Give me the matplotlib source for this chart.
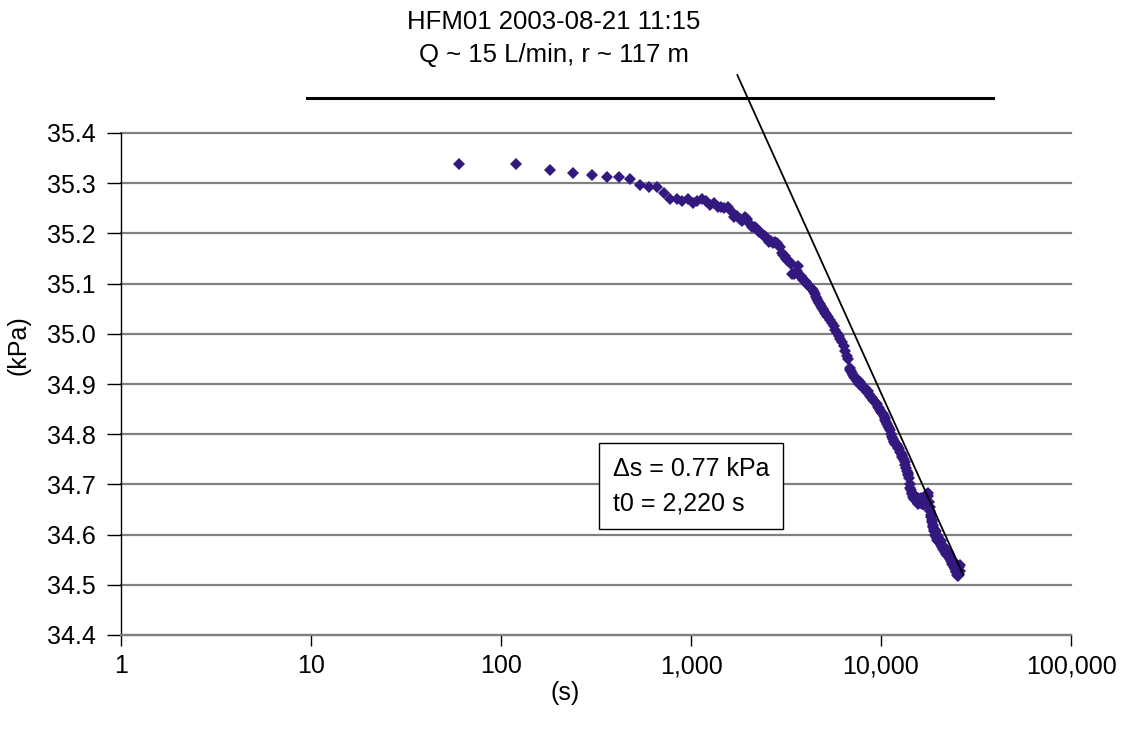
import numpy as np
import matplotlib.pyplot as plt
from matplotlib.ticker import FixedLocator, FuncFormatter, NullLocator

# HFM01 pressure recovery
t = [60, 120, 180, 240, 300, 360, 420, 480, 540, 600, 660, 720, 780, 840, 900, 960,
     1020, 1080, 1140, 1200, 1260, 1320, 1380, 1440, 1500, 1560, 1620, 1680, 1740, 1800,
     1860, 1920, 1980, 2040, 2100, 2160, 2220, 2280, 2340, 2400, 2460, 2520, 2580, 2640,
     2700, 2760, 2820, 2880, 2940, 3000, 3060, 3120, 3180, 3240, 3300, 3360, 3420, 3480,
     3540, 3600, 3660, 3720, 3780, 3840, 3900, 3960, 4020, 4080, 4140, 4200, 4260, 4320,
     4380, 4440, 4500, 4560, 4620, 4680, 4740, 4800, 4860, 4920, 4980, 5040, 5100, 5160,
     5220, 5280, 5400, 5520, 5640, 5760, 5880, 6000, 6120, 6240, 6360, 6480, 6600, 6720,
     6840, 6900, 6960, 7020, 7080, 7200, 7320, 7440, 7560, 7680, 7800, 7920, 8040, 8160,
     8280, 8400, 8520, 8640, 8760, 8880, 9000, 9120, 9240, 9360, 9480, 9600, 9720, 9840,
     9960, 10080, 10200, 10320, 10440, 10560, 10680, 10800, 10920, 11040, 11160, 11280,
     11400, 11520, 11640, 11760, 11880, 12000, 12120, 12240, 12360, 12480, 12600, 12720,
     12840, 12960, 13080, 13200, 13320, 13440, 13560, 13680, 13800, 13920, 14040, 14160,
     14280, 14400, 14520, 14640, 14760, 14880, 15000, 15120, 15240, 15360, 15480, 15600,
     15720, 15840, 15960, 16080, 16200, 16320, 16440, 16560, 16680, 16800, 16920, 17040,
     17160, 17280, 17400, 17520, 17640, 17760, 17880, 18000, 18120, 18240, 18360, 18480,
     18600, 18720, 18840, 18960, 19080, 19200, 19320, 19440, 19560, 19680, 19800, 19920,
     20040, 20160, 20280, 20400, 20520, 20640, 20760, 20880, 21000, 21120, 21240, 21360,
     21480, 21600, 21720, 21840, 21960, 22080, 22200, 22320, 22440, 22560, 22680, 22800,
     22920, 23040, 23160, 23280, 23400, 23520, 23640, 23760, 23880, 24000, 24120, 24240,
     24360, 24480, 24600, 24720, 24840, 24960, 25080, 25200, 25320, 25440, 25560, 25680,
     25800, 25920, 26040]
p = [35.338, 35.338, 35.326, 35.321, 35.317, 35.313, 35.313, 35.308, 35.296, 35.293,
     35.293, 35.280, 35.268, 35.268, 35.265, 35.268, 35.260, 35.265, 35.268, 35.265,
     35.257, 35.261, 35.252, 35.253, 35.250, 35.252, 35.245, 35.232, 35.235, 35.228,
     35.225, 35.232, 35.228, 35.218, 35.213, 35.212, 35.208, 35.203, 35.200, 35.197,
     35.195, 35.188, 35.183, 35.185, 35.180, 35.182, 35.181, 35.176, 35.172, 35.160,
     35.157, 35.155, 35.150, 35.146, 35.144, 35.140, 35.120, 35.120, 35.122, 35.125,
     35.135, 35.118, 35.115, 35.112, 35.108, 35.105, 35.103, 35.100, 35.098, 35.095,
     35.092, 35.090, 35.087, 35.084, 35.080, 35.074, 35.070, 35.066, 35.062, 35.060,
     35.056, 35.052, 35.049, 35.046, 35.042, 35.039, 35.036, 35.033, 35.028, 35.022,
     35.016, 35.008, 35.002, 34.996, 34.990, 34.984, 34.976, 34.966, 34.956, 34.950,
     34.932, 34.928, 34.925, 34.921, 34.918, 34.914, 34.912, 34.905, 34.908, 34.900,
     34.903, 34.897, 34.895, 34.890, 34.892, 34.885, 34.887, 34.880, 34.876, 34.875,
     34.872, 34.868, 34.866, 34.862, 34.860, 34.855, 34.852, 34.848, 34.845, 34.843,
     34.840, 34.836, 34.832, 34.828, 34.824, 34.820, 34.816, 34.812, 34.808, 34.800,
     34.795, 34.790, 34.787, 34.784, 34.781, 34.780, 34.778, 34.775, 34.772, 34.770,
     34.765, 34.762, 34.758, 34.755, 34.752, 34.748, 34.744, 34.738, 34.732, 34.727,
     34.722, 34.718, 34.712, 34.700, 34.692, 34.688, 34.680, 34.683, 34.675, 34.670,
     34.678, 34.672, 34.668, 34.675, 34.665, 34.672, 34.660, 34.668, 34.662, 34.670,
     34.665, 34.672, 34.660, 34.668, 34.662, 34.658, 34.665, 34.662, 34.670, 34.675,
     34.678, 34.680, 34.682, 34.676, 34.665, 34.655, 34.648, 34.640, 34.636, 34.630,
     34.625, 34.620, 34.615, 34.612, 34.608, 34.605, 34.600, 34.608, 34.595, 34.600,
     34.590, 34.595, 34.588, 34.592, 34.585, 34.590, 34.583, 34.588, 34.580, 34.575,
     34.580, 34.578, 34.572, 34.575, 34.570, 34.568, 34.572, 34.565, 34.568, 34.562,
     34.566, 34.560, 34.565, 34.558, 34.562, 34.555, 34.560, 34.552, 34.556, 34.548,
     34.552, 34.545, 34.550, 34.542, 34.548, 34.540, 34.545, 34.535, 34.540, 34.532,
     34.536, 34.528, 34.532, 34.525, 34.530, 34.520, 34.525, 34.518, 34.530, 34.522,
     34.535, 34.528, 34.540]

# semilog straight-line fit and the horizontal reference line
fit_t = [1753, 27100]
fit_p = [35.5155, 34.5195]
ref_t = [9.5, 38700]
ref_p = [35.47, 35.47]

xticks = [1, 10, 100, 1000, 10000, 100000]
yticks = np.round(np.arange(34.4, 35.41, 0.1), 1)

plt.rcParams['font.family'] = ['Liberation Sans', 'DejaVu Sans']

fig = plt.figure(figsize=(11.31, 7.35), dpi=100)
ax = fig.add_axes([121/1131, 1 - 635/735, 950/1131, 502/735])

ax.set_xscale('log')
ax.set_xlim(1, 100000)
ax.set_ylim(34.4, 35.4)

for y in yticks:
    ax.axhline(y, color='#808080', lw=1.6, zorder=1, clip_on=False)

ax.plot(t, p, 'D', color='#33197f', markersize=6.2, markeredgewidth=0, zorder=3)
ax.plot(fit_t, fit_p, color='black', lw=1.3, zorder=4, clip_on=False)
ax.plot(ref_t, ref_p, color='black', lw=2.2, zorder=4, clip_on=False)

ax.xaxis.set_major_locator(FixedLocator(xticks))
ax.xaxis.set_minor_locator(NullLocator())
ax.xaxis.set_major_formatter(FuncFormatter(lambda v, pos: f'{v:,.0f}'))
ax.set_yticks(yticks)
ax.set_yticklabels([f'{v:.1f}' for v in yticks])

ax.tick_params(axis='x', direction='out', length=8, width=1, pad=6, labelsize=18)
ax.tick_params(axis='y', direction='out', length=10, width=1, pad=8, labelsize=18)

for s in ['top', 'right']:
    ax.spines[s].set_visible(False)
ax.spines['left'].set_linewidth(1)
ax.spines['bottom'].set_color('#808080')
ax.spines['bottom'].set_linewidth(1.6)

fig.text(565/1131, 1 - 693/735, '(s)', ha='center', va='center', fontsize=18)
fig.text(18/1131, 1 - 345/735, '(kPa)', ha='center', va='center', fontsize=18, rotation=90)

fig.text(554/1131, 1 - 22/735, 'HFM01 2003-08-21 11:15', ha='center', va='center', fontsize=18.5)
fig.text(554/1131, 1 - 55/735, 'Q ~ 15 L/min, r ~ 117 m', ha='center', va='center', fontsize=18.5)

ax.text((613 - 121)/950, (635 - 486)/502, 'Δs = 0.77 kPa\nt0 = 2,220 s', transform=ax.transAxes,
        ha='left', va='center', fontsize=18, linespacing=1.55, zorder=5,
        bbox=dict(boxstyle='square,pad=0.55', facecolor='white', edgecolor='black', lw=1))

fig.savefig('out.png', dpi=100)
